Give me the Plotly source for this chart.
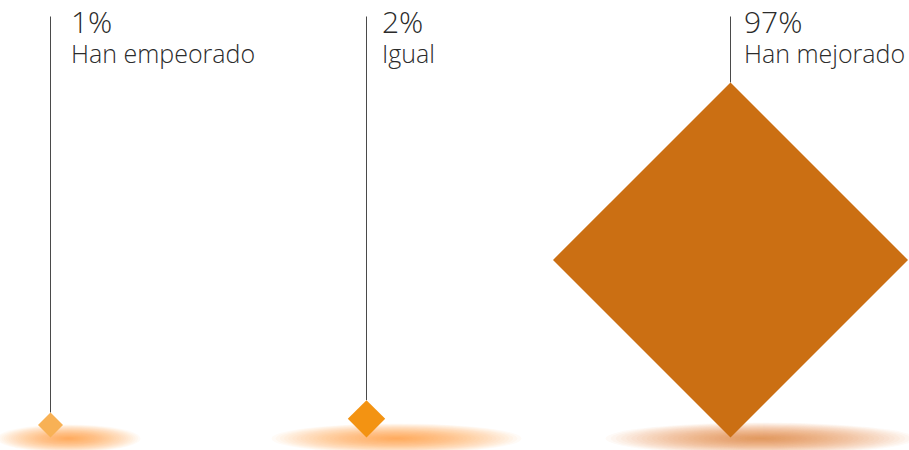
import plotly.graph_objects as go

# ---- data ----
categories = ["Han empeorado", "Igual", "Han mejorado"]
values = [1, 2, 97]
value_labels = ["1%", "2%", "97%"]

# ---- layout / style constants ----
W, H = 909, 450
centers_x = [50, 366, 730]          # column anchor (line / diamond centre)
label_x = [68, 379, 741]            # text left edge
baseline_y = 437                    # diamond bottom
line_top = 16
diamond_colors = ["#F8B155", "#F39312", "#CB6F13"]
glow_rgb = ["245,150,40", "242,140,25", "215,120,35"]
glow_halfw = [72, 125, 155]
glow_halfh = [14, 15, 16]
glow_shift = [18, 30, 30]
FONT = "'Open Sans', Roboto, Lato, sans-serif"
TEXT_COLOR = "#2b2b2b"


def half_size(v):
    return 12.5 * v ** 0.58


fig = go.Figure()
shapes = []

for i, (cat, v) in enumerate(zip(categories, values)):
    cx = centers_x[i]
    h = half_size(v)
    top = baseline_y - 2 * h
    mid = baseline_y - h
    # glow (stacked ellipses to fake a soft radial gradient)
    n = 30
    gx = cx + glow_shift[i]
    for k in range(n):
        f = 1 - k / n
        rx = glow_halfw[i] * f
        ry = glow_halfh[i] * f
        shapes.append(dict(type="circle", xref="x", yref="y", layer="below",
                           x0=gx - rx, x1=gx + rx, y0=baseline_y + 1 - ry, y1=baseline_y + 1 + ry,
                           line=dict(width=0), fillcolor=f"rgba({glow_rgb[i]},0.035)"))
    # connector line
    fig.add_trace(go.Scatter(x=[cx, cx], y=[line_top, top], mode="lines",
                             line=dict(color="#4a4a4a", width=1), hoverinfo="skip", showlegend=False))
    # diamond
    fig.add_trace(go.Scatter(x=[cx, cx + h, cx, cx - h, cx], y=[top, mid, baseline_y, mid, top],
                             mode="lines", fill="toself", fillcolor=diamond_colors[i],
                             line=dict(width=0, color=diamond_colors[i]),
                             name=cat, hoverinfo="skip", showlegend=False))
    fig.add_annotation(x=label_x[i], y=0, yshift=2, xref="x", yref="y", xanchor="left", yanchor="top",
                       text=value_labels[i], showarrow=False,
                       font=dict(family=FONT, size=30, color=TEXT_COLOR, weight=300))
    fig.add_annotation(x=label_x[i], y=33, xref="x", yref="y", xanchor="left", yanchor="top",
                       text=cat, showarrow=False,
                       font=dict(family=FONT, size=25, color=TEXT_COLOR, weight=300))

fig.update_layout(
    width=W, height=H, margin=dict(l=0, r=0, t=0, b=0),
    paper_bgcolor="white", plot_bgcolor="white",
    xaxis=dict(range=[-0.5, W - 0.5], visible=False, fixedrange=True),
    yaxis=dict(range=[H - 0.5, -0.5], visible=False, fixedrange=True),
    shapes=shapes,
)

fig.write_html("out.html", config={"displayModeBar": False})

# remove default page margin so the figure sits at the window's top-left corner
with open("out.html", encoding="utf-8") as fh:
    html = fh.read()
html = html.replace("<head>", "<head><style>html,body{margin:0;padding:0;overflow:hidden;}</style>", 1)
with open("out.html", "w", encoding="utf-8") as fh:
    fh.write(html)
